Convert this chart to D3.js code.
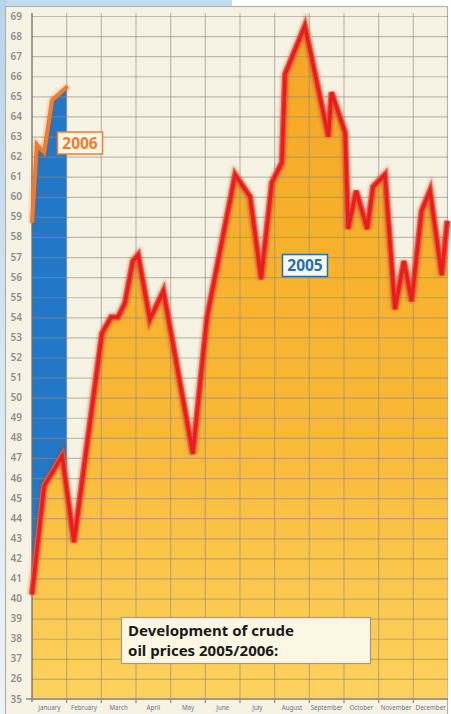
<!DOCTYPE html>
<html>
<head>
<meta charset="utf-8">
<script src="https://cdn.jsdelivr.net/npm/d3@7"></script>
<style>
body { margin: 0; background: #fff; }
svg { display: block; }
</style>
</head>
<body>
<div class="content"></div>
<script>
// chart data
var months = ["January", "February", "March", "April", "May", "June", "July", "August", "September", "October", "November", "December"];
var yTickValues = [35, 36, 37, 38, 39, 40, 41, 42, 43, 44, 45, 46, 47, 48, 49, 50, 51, 52, 53, 54, 55, 56, 57, 58, 59, 60, 61, 62, 63, 64, 65, 66, 67, 68, 69];
var yTickLabels = ["35", "26", "37", "38", "39", "40", "41", "42", "43", "44", "45", "46", "47", "48", "49", "50", "51", "52", "53", "54", "55", "56", "57", "58", "59", "60", "61", "62", "63", "64", "65", "66", "67", "68", "69"];

// position in months (0 = start of January), price in $
var pos2005 = [0.0, 0.35, 0.87, 1.21, 2.02, 2.28, 2.48, 2.68, 2.91, 3.06, 3.40, 3.79, 4.64, 5.05, 5.86, 6.29, 6.61, 6.92, 7.21, 7.30, 7.87, 8.55, 8.64, 9.03, 9.12, 9.35, 9.67, 9.84, 10.18, 10.47, 10.73, 10.95, 11.24, 11.48, 11.82, 11.98];
var price2005 = [40.2, 45.6, 47.1, 42.8, 53.2, 54.0, 54.0, 54.7, 56.8, 57.1, 53.9, 55.3, 47.2, 54.0, 61.1, 60.0, 55.9, 60.7, 61.7, 66.1, 68.5, 63.0, 65.2, 63.2, 58.4, 60.3, 58.4, 60.5, 61.1, 54.4, 56.8, 54.8, 59.3, 60.3, 56.1, 58.8];
var pos2006 = [0.0, 0.14, 0.35, 0.58, 1.03];
var price2006 = [58.7, 62.6, 62.2, 64.8, 65.5];

var width = 451;
var height = 714;
var svg = d3.select(".content").append("svg").attr("width", width).attr("height", height)
  .style("font-family", "'Noto Sans', sans-serif");

var x = d3.scaleLinear().domain([0, 12]).range([32, 448]);
var y = d3.scaleLinear().domain([35, 69]).range([699, 16]);

var data2005 = pos2005.map(function(p, i){ return {p: p, v: price2005[i]}; });
var data2006 = pos2006.map(function(p, i){ return {p: p, v: price2006[i]}; });

var defs = svg.append("defs");
var sky = defs.append("linearGradient").attr("id", "sky").attr("x1", 0).attr("y1", 0).attr("x2", 0).attr("y2", 1);
sky.append("stop").attr("offset", "0%").attr("stop-color", "#b9d5ea");
sky.append("stop").attr("offset", "60%").attr("stop-color", "#dbe9f3");
sky.append("stop").attr("offset", "100%").attr("stop-color", "#eef4f8");
var fill = defs.append("linearGradient").attr("id", "fill05").attr("gradientUnits", "userSpaceOnUse")
  .attr("x1", 0).attr("y1", y(69)).attr("x2", 0).attr("y2", y(35));
fill.append("stop").attr("offset", "0%").attr("stop-color", "#f6a623");
fill.append("stop").attr("offset", "60%").attr("stop-color", "#f9b935");
fill.append("stop").attr("offset", "100%").attr("stop-color", "#fcd25e");
defs.append("filter").attr("id", "blur").attr("x", "-10%").attr("y", "-10%").attr("width", "120%").attr("height", "120%")
  .append("feGaussianBlur").attr("stdDeviation", 1.6);
defs.append("clipPath").attr("id", "jan").append("rect")
  .attr("x", x(0)).attr("y", 0).attr("width", x(1) - x(0)).attr("height", height);
defs.append("clipPath").attr("id", "plot").append("rect")
  .attr("x", x(0)).attr("y", 0).attr("width", x(12) - x(0)).attr("height", y(35));

// background: sky strip on the left / top-left, cream panel
svg.append("rect").attr("width", width).attr("height", height).attr("fill", "#ffffff");
svg.append("rect").attr("x", 0).attr("y", 0).attr("width", 232).attr("height", 8).attr("fill", "#c3dbee");
svg.append("rect").attr("x", 0).attr("y", 0).attr("width", 6).attr("height", height).attr("fill", "url(#sky)");
svg.append("rect").attr("x", 5.5).attr("y", 6.5).attr("width", 442).attr("height", height)
  .attr("fill", "#f7f3e4").attr("stroke", "#b4b2ad").attr("stroke-width", 1.2);

// 2006 area (only January) and 2005 area
var area = d3.area().x(function(d){ return x(d.p); }).y0(y(35)).y1(function(d){ return y(d.v); });
svg.append("path").datum(data2006).attr("d", area).attr("fill", "#2277c6").attr("clip-path", "url(#jan)");
svg.append("path").datum(data2005).attr("d", area).attr("fill", "url(#fill05)").attr("clip-path", "url(#plot)");

// grid
var grid = svg.append("g");
grid.selectAll(".h").data(yTickValues).enter().append("line")
  .attr("x1", x(0)).attr("x2", x(12)).attr("y1", function(d){ return y(d) + 0.5; }).attr("y2", function(d){ return y(d) + 0.5; })
  .attr("stroke", "#8f8a80").attr("stroke-opacity", 0.55).attr("stroke-width", 1.2);
grid.selectAll(".v").data(d3.range(1, 12)).enter().append("line")
  .attr("x1", function(d){ return x(d); }).attr("x2", function(d){ return x(d); }).attr("y1", 13).attr("y2", y(35) + 4)
  .attr("stroke", "#8f8a80").attr("stroke-opacity", 0.55).attr("stroke-width", 1.2);
svg.append("line").attr("x1", x(0)).attr("x2", x(0)).attr("y1", 13).attr("y2", y(35) + 3)
  .attr("stroke", "#6f6c68").attr("stroke-width", 1.3);
svg.append("line").attr("x1", 26).attr("x2", x(12)).attr("y1", y(35)).attr("y2", y(35))
  .attr("stroke", "#8c8984").attr("stroke-width", 1.5);

// lines
var line = d3.line().x(function(d){ return x(d.p); }).y(function(d){ return y(d.v); });
svg.append("path").datum(data2005).attr("d", line).attr("fill", "none")
  .attr("stroke", "#9a4a22").attr("stroke-opacity", 0.45).attr("stroke-width", 8)
  .attr("stroke-linejoin", "miter").attr("filter", "url(#blur)");
svg.append("path").datum(data2005).attr("d", line).attr("fill", "none")
  .attr("stroke", "#f2553a").attr("stroke-width", 6).attr("stroke-linejoin", "miter");
svg.append("path").datum(data2005).attr("d", line).attr("fill", "none")
  .attr("stroke", "#e81d1d").attr("stroke-width", 3.5).attr("stroke-linejoin", "miter");

svg.append("path").datum(data2006).attr("d", line).attr("fill", "none")
  .attr("stroke", "#b0561c").attr("stroke-opacity", 0.35).attr("stroke-width", 6).attr("filter", "url(#blur)");
svg.append("path").datum(data2006).attr("d", line).attr("fill", "none")
  .attr("stroke", "#f47a2c").attr("stroke-width", 4).attr("stroke-linejoin", "miter");

// y labels
svg.append("g").selectAll("text").data(yTickValues).enter().append("text")
  .attr("x", 22).attr("y", function(d){ return y(d) + 3.5; }).attr("text-anchor", "end")
  .attr("font-size", 10).attr("font-weight", 600).attr("fill", "#8e8e8e")
  .text(function(d, i){ return yTickLabels[i]; });

// month labels
svg.append("g").selectAll("text").data(months).enter().append("text")
  .attr("x", function(d, i){ return x(i + 0.5); }).attr("y", 710).attr("text-anchor", "middle")
  .attr("font-size", 6.2).attr("fill", "#6d7290")
  .text(function(d){ return d; });
svg.append("g").selectAll("line").data(d3.range(1, 12)).enter().append("line")
  .attr("x1", function(d){ return x(d); }).attr("x2", function(d){ return x(d); }).attr("y1", y(35)).attr("y2", y(35) + 4)
  .attr("stroke", "#8c8984");

// series labels
function tag(cx, cy, w, h, txt, col){
  svg.append("rect").attr("x", cx).attr("y", cy).attr("width", w).attr("height", h)
    .attr("fill", "#fbf6e6").attr("stroke", col).attr("stroke-width", 1.5);
  svg.append("text").attr("x", cx + w / 2).attr("y", cy + h / 2 + 5.5).attr("text-anchor", "middle")
    .attr("font-size", 15.5).attr("font-weight", "bold").attr("fill", col).text(txt);
}
tag(57.5, 132, 45, 22, "2006", "#f47a2c");
tag(282.5, 254.5, 45, 22, "2005", "#1f6fb8");

// title box
svg.append("rect").attr("x", 121.5).attr("y", 617.5).attr("width", 249).attr("height", 46)
  .attr("fill", "#fcf7e3").attr("stroke", "#9c9a96").attr("stroke-width", 1.2);
svg.append("text").attr("x", 128).attr("y", 636).attr("font-size", 15).attr("font-weight", "bold")
  .attr("fill", "#1a1a1a").text("Development of crude");
svg.append("text").attr("x", 128).attr("y", 656).attr("font-size", 15).attr("font-weight", "bold")
  .attr("fill", "#1a1a1a").text("oil prices 2005/2006:");
</script>
</body>
</html>
